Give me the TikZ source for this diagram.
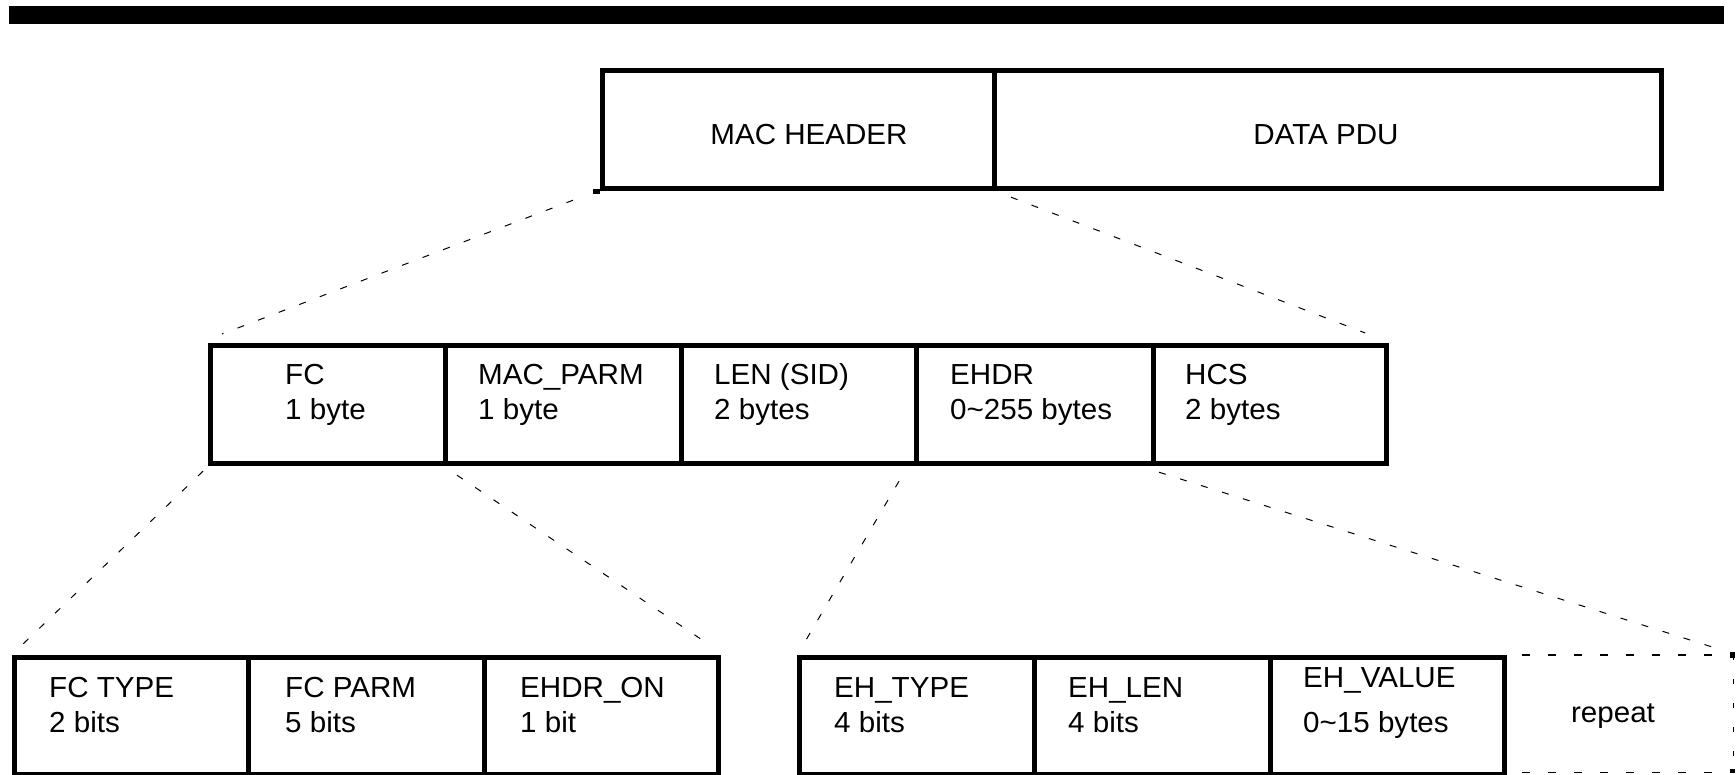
\documentclass[tikz,border=0pt]{standalone}
\usepackage{fontspec}
\setmainfont{Liberation Sans}[FakeStretch=1.02]
\begin{document}
\begin{tikzpicture}[x=1pt,y=-1pt,
  cell/.style={draw, line width=5.2pt, anchor=north west, inner sep=0pt, minimum height=#1},
  cell/.default=118pt,
  txt/.style={font=\fontsize{29}{34}\selectfont, inner sep=0pt, anchor=base west},
  ctxt/.style={font=\fontsize{29}{34}\selectfont, inner sep=0pt, anchor=base},
  conn/.style={line width=1pt, dash pattern=on 7pt off 15pt},
  rdash/.style={line width=1.3pt, dash pattern=on 8pt off 18pt},
  rdashv/.style={line width=1.6pt, dash pattern=on 5pt off 19pt}]
\useasboundingbox (0,0) rectangle (1736,775);
% top bar
\fill (9,6) rectangle (1724,24);
% top box
\node[cell, minimum width=392pt] (mac) at (600,68) {};
\node[cell, minimum width=667pt] (pdu) at (992,68) {};
\draw[line width=5.2pt] (mac.south west) -- ++(-7,0);
\node[ctxt] (macT) at (809,145) {MAC HEADER};
\node[ctxt] (pduT) at (1326,145) {DATA PDU};
% middle box
\node[cell, minimum width=235pt] (fc)   at (208,343) {};
\node[cell, minimum width=236pt] (parm) at (443,343) {};
\node[cell, minimum width=235pt] (len)  at (679,343) {};
\node[cell, minimum width=237pt] (ehdr) at (914,343) {};
\node[cell, minimum width=233pt] (hcs)  at (1151,343) {};
\node[txt] (fcA) at (285,384) {FC};
\node[txt] (fcB) at (285,419) {1 byte};
\node[txt] (parmA) at (478,384) {MAC\_PARM};
\node[txt] (parmB) at (478,419) {1 byte};
\node[txt] (lenA) at (714,384) {LEN (SID)};
\node[txt] (lenB) at (714,419) {2 bytes};
\node[txt] (ehdrA) at (950,384) {EHDR};
\node[txt] (ehdrB) at (950,419) {0\textasciitilde255 bytes};
\node[txt] (hcsA) at (1185,384) {HCS};
\node[txt] (hcsB) at (1185,419) {2 bytes};
% bottom left box
\node[cell=117pt, minimum width=234pt] (fct) at (12,655) {};
\node[cell=117pt, minimum width=236pt] (fcp) at (246,655) {};
\node[cell=117pt, minimum width=234pt] (eon) at (482,655) {};
\node[txt] (fctA) at (49,697) {FC TYPE};
\node[txt] (fctB) at (49,732) {2 bits};
\node[txt] (fcpA) at (285,697) {FC PARM};
\node[txt] (fcpB) at (285,732) {5 bits};
\node[txt] (eonA) at (520,697) {EHDR\_ON};
\node[txt] (eonB) at (520,732) {1 bit};
% bottom right box
\node[cell=117pt, minimum width=235pt] (eht) at (797,655) {};
\node[cell=117pt, minimum width=236pt] (ehl) at (1032,655) {};
\node[cell=117pt, minimum width=234pt] (ehv) at (1268,655) {};
\node[anchor=north west, inner sep=0pt, minimum width=231pt, minimum height=117pt] (rep) at (1502,655) {};
\draw[rdash] ([xshift=20pt]rep.north west) -- (rep.north east);
\draw[rdash] ([xshift=20pt]rep.south west) -- (rep.south east);
\draw[rdashv] (rep.north east) -- (rep.south east);
\fill ([shift={(-3,-3)}]rep.north east) rectangle ([shift={(2,3)}]rep.north east);
\fill ([shift={(-3,-3)}]rep.south east) rectangle ([shift={(2,1)}]rep.south east);
\node[txt] (ehtA) at (834,697) {EH\_TYPE};
\node[txt] (ehtB) at (834,732) {4 bits};
\node[txt] (ehlA) at (1068,697) {EH\_LEN};
\node[txt] (ehlB) at (1068,732) {4 bits};
\node[txt] (ehvA) at (1303,687) {EH\_VALUE};
\node[txt] (ehvB) at (1303,732) {0\textasciitilde15 bytes};
\node[ctxt] (repT) at (1613,722) {repeat};
% connectors
\draw[conn] ([shift={(-27,9)}]mac.south west) -- ([shift={(14,-9)}]fc.north west);
\draw[conn] ([shift={(19,6)}]pdu.south west) -- ([shift={(-24,-10)}]hcs.north east);
\draw[conn] ([shift={(-5,5)}]fc.south west) -- ([shift={(10,-10)}]fct.north west);
\draw[conn] ([shift={(14,9)}]parm.south west) -- ([shift={(-16,-13)}]eon.north east);
\draw[conn] ([shift={(-15,15)}]ehdr.south west) -- ([shift={(9,-15)}]eht.north west);
\draw[conn] ([shift={(8,6)}]hcs.south west) -- ([shift={(-18,-7)}]rep.north east);
\end{tikzpicture}
\end{document}
